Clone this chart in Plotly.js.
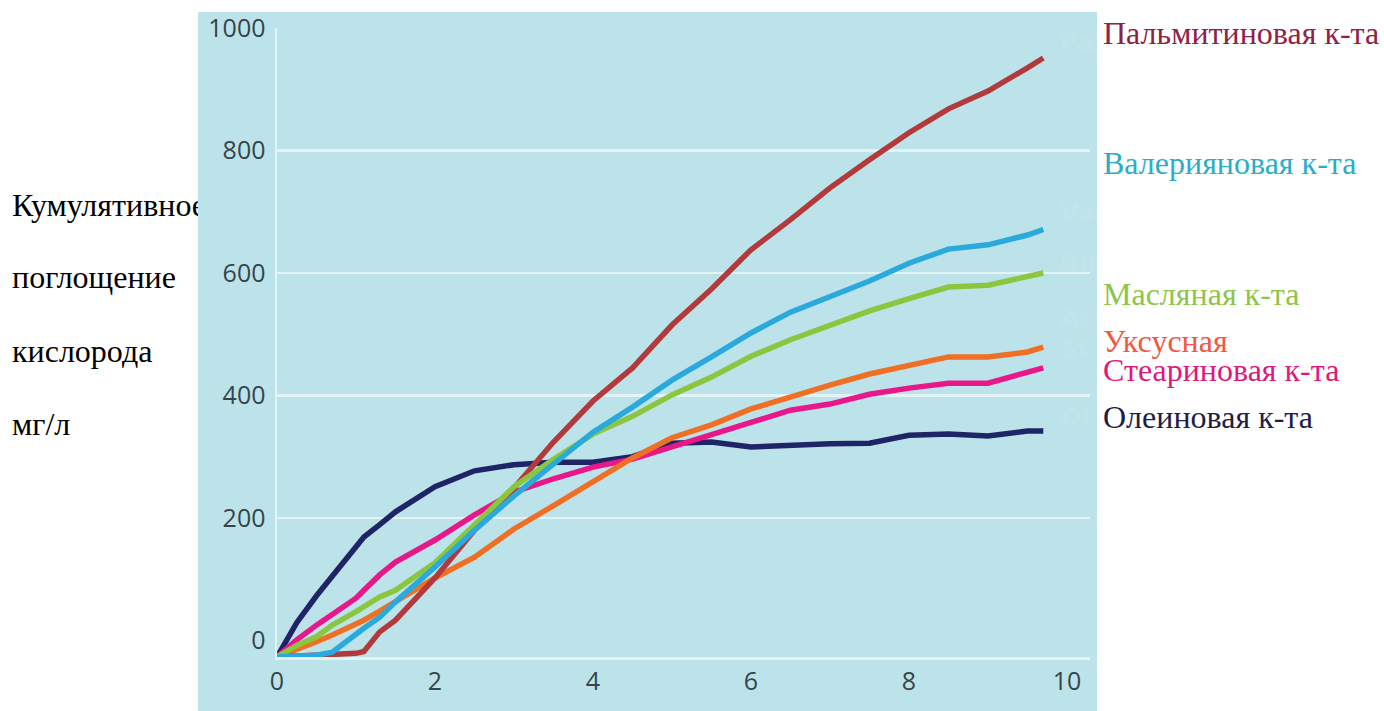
<!DOCTYPE html>
<html>
<head>
<meta charset="utf-8">
<script src="https://cdn.plot.ly/plotly-3.0.1.min.js"></script>
<style>html,body{margin:0;padding:0;background:#fff;}#chart{width:1384px;height:711px;}</style>
</head>
<body>
<div id="chart"></div>
<script>
// Days (x axis)
const days = [0,0.25,0.5,0.7,1,1.1,1.3,1.5,2,2.5,3,3.5,4,4.5,5,5.5,6,6.5,7,7.5,8,8.5,9,9.5,9.7];
// Cumulative oxygen uptake, mg/l
const palmitic = [-27,-26,-25,-23,-21,-18,14,33,102,180,249,324,391,445,515,574,638,687,739,785,829,868,897,935,951];
const valeric  = [-27,-26,-24,-19,11,20,38,63,120,180,236,287,340,381,425,463,502,536,562,587,616,639,646,662,671];
const butyric  = [-27,-8,6,25,47,55,71,82,127,189,251,296,337,366,401,430,464,491,515,538,558,577,580,593,600];
const acetic   = [-27,-15,-2,9,27,33,48,64,102,136,182,220,259,298,331,352,378,398,417,435,450,463,463,471,479];
const stearic  = [-27,1,25,43,69,82,107,128,164,205,242,264,283,296,316,335,357,376,386,402,412,420,420,438,445];
const oleic    = [-27,29,73,105,153,169,189,210,251,277,287,291,291,300,322,324,316,319,321,322,335,337,334,342,342];

const seriesNames = ["Олеиновая к-та","Стеариновая к-та","Уксусная","Пальмитиновая к-та","Масляная к-та","Валерияновая к-та"];
const seriesData  = [oleic, stearic, acetic, palmitic, butyric, valeric];
const lineColors  = ["#1f2466","#e8178a","#ef7024","#b23a3c","#8cc63f","#2aa9dc"];

const labelTexts  = ["Пальмитиновая к-та","Валерияновая к-та","Масляная к-та","Уксусная","Стеариновая к-та","Олеиновая к-та"];
const labelColors = ["#8e2144","#2aaec6","#8dc54a","#f4573d","#e0187a","#1e1e46"];
const labelY      = [33,163,294,341,370,417];

const yTitleLines = ["Кумулятивное","поглощение","кислорода","мг/л"];
const yTitleY     = [205,277,351,424];

const ghostTexts = ["Pa","Va","Bu","Ac","St","Ol"];
const ghostY     = [42,213,262,318,348,417];

const xTicks = [0,2,4,6,8,10];
const yTicks = [0,200,400,600,800,1000];

// layout geometry (pixels)
const L = 277, R = 1090, T = 28, B = 657;
const px = v => (v - L) / (R - L);
const py = v => (B - v) / (B - T);

const traces = seriesData.map((d, i) => ({
  x: days, y: d, type: "scatter", mode: "lines", name: seriesNames[i],
  line: {color: lineColors[i], width: 5.5}, hoverinfo: "skip"
}));

const annotations = [];
ghostTexts.forEach((t, i) => annotations.push({
  xref: "paper", yref: "paper", x: px(1058), y: py(ghostY[i]),
  xanchor: "left", yanchor: "middle", showarrow: false, text: "<b>" + t + "</b>",
  width: 36, align: "left",
  font: {family: "DejaVu Sans", size: 25, color: "rgba(255,255,255,0.08)"}
}));
labelTexts.forEach((t, i) => annotations.push({
  xref: "paper", yref: "paper", x: px(1101), y: py(labelY[i]),
  xanchor: "left", yanchor: "middle", showarrow: false, text: t,
  font: {family: "Liberation Serif", size: 32, color: labelColors[i]}
}));
yTitleLines.forEach((t, i) => {
  const a = {
    xref: "paper", yref: "paper", x: px(10), y: py(yTitleY[i]),
    xanchor: "left", yanchor: "middle", showarrow: false, text: t, align: "left",
    font: {family: "Liberation Serif", size: 32, color: "#000"}
  };
  if (i === 0) { a.width = 186; }
  annotations.push(a);
});

const layout = {
  width: 1384, height: 711,
  margin: {l: L, r: 1384 - R, t: T, b: 711 - B, pad: 0},
  paper_bgcolor: "#ffffff",
  plot_bgcolor: "rgba(0,0,0,0)",
  showlegend: false,
  xaxis: {
    range: [0, (R - L) / 79], tickvals: xTicks, ticktext: xTicks.map(String),
    showgrid: false, zeroline: false, showline: true, linecolor: "#e3f4f7", linewidth: 2.5,
    ticks: "", 
    tickfont: {family: "Open Sans", size: 25, color: "#34454b"}, fixedrange: true
  },
  yaxis: {
    range: [-27, 1000], tickvals: yTicks, ticktext: yTicks.map(String),
    showgrid: true, gridcolor: "#e3f4f7", gridwidth: 2.5,
    zeroline: true, zerolinecolor: "#bde3ea", zerolinewidth: 3,
    showline: true, linecolor: "#e3f4f7", linewidth: 2.5,
    ticks: "outside", ticklen: 4, tickcolor: "rgba(0,0,0,0)",
    tickfont: {family: "Open Sans", size: 25, color: "#34454b"}, fixedrange: true
  },
  shapes: [{
    type: "rect", xref: "paper", yref: "paper", layer: "below",
    x0: px(198), x1: px(1097), y0: py(711), y1: py(12),
    fillcolor: "#bde3ea", line: {width: 0}
  }],
  annotations: annotations
};

Plotly.newPlot("chart", traces, layout, {displayModeBar: false, staticPlot: true});
</script>
</body>
</html>
